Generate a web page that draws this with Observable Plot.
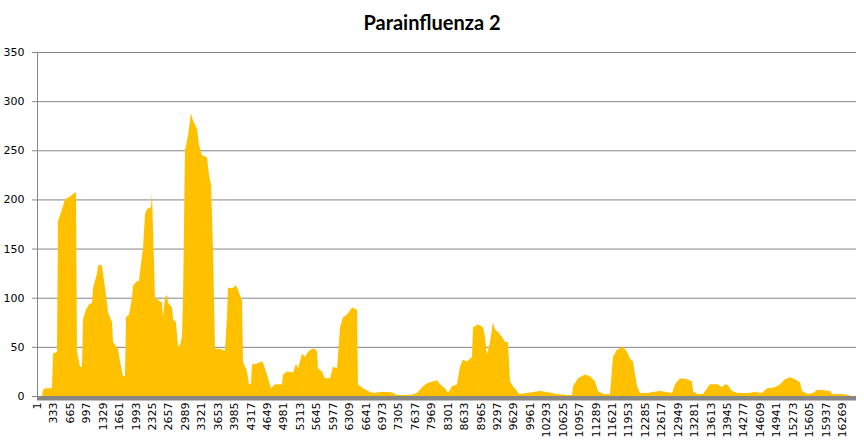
<!DOCTYPE html>
<html><head><meta charset="utf-8">
<script src="https://cdn.jsdelivr.net/npm/d3@7"></script>
<script src="https://cdn.jsdelivr.net/npm/@observablehq/plot@0.6"></script>
<style>
body{margin:0;background:#fff;}
#title{height:40px;font:bold 20px Lato, "Open Sans", sans-serif;text-align:center;line-height:44px;color:#000;}
#chart svg{display:block;}
</style></head><body>
<div id="title"></div>
<div id="chart"></div>
<script>
const title = "Parainfluenza 2";
const positions = [1,102,122,163,304,324,405,425,506,567,668,769,789,809,870,910,931,991,1052,1113,1133,1214,1234,1315,1335,1416,1436,1517,1537,1638,1678,1739,1779,1800,1860,1921,1941,2022,2062,2103,2143,2184,2224,2285,2305,2325,2345,2386,2446,2527,2547,2588,2628,2649,2729,2750,2810,2851,2891,2931,2952,2992,3053,3113,3154,3235,3275,3336,3437,3477,3518,3558,3598,3699,3800,3841,3861,3962,4023,4063,4144,4164,4245,4286,4326,4346,4447,4548,4568,4649,4690,4730,4811,4952,4973,5054,5175,5235,5276,5357,5417,5478,5559,5619,5660,5680,5761,5821,5923,5983,6064,6125,6185,6266,6367,6468,6488,6589,6691,6792,6933,7135,7196,7277,7539,7681,7802,7883,8004,8085,8146,8247,8307,8388,8489,8550,8610,8691,8792,8813,8914,9015,9055,9096,9156,9217,9257,9318,9399,9459,9520,9560,9621,9702,9742,9904,10025,10167,10308,10510,10712,10813,10834,10935,11076,11177,11278,11339,11440,11581,11642,11723,11844,11925,11986,12046,12127,12188,12329,12450,12592,12733,12834,12895,12996,13138,13239,13259,13340,13461,13542,13602,13764,13845,13905,13966,14047,14168,14370,14512,14653,14754,14916,15017,15118,15219,15320,15421,15462,15583,15684,15765,15866,16028,16068,16270,16391,16472];
const counts = [0,0,6,8,8,43,45,178,190,200,203,207,207,45,30,30,78,88,93,95,110,125,133,133,125,95,85,75,55,48,35,20,20,80,83,100,112,117,117,135,150,185,190,192,192,207,170,100,98,95,80,100,103,95,90,78,75,50,52,60,100,250,265,288,280,272,255,245,243,225,215,150,48,48,46,82,110,110,113,108,97,35,25,12,12,32,33,35,34,22,15,8,12,12,22,25,24,33,28,43,40,45,48,48,45,28,25,18,18,30,28,70,80,83,90,88,12,8,5,3,4,4,3,1,1,3,10,13,15,16,12,8,3,10,12,30,37,35,40,70,73,70,60,42,55,75,68,65,60,55,55,15,10,5,2,3,4,5,4,2,1,1,10,18,22,20,15,5,2,2,40,47,50,45,38,35,10,3,3,4,5,4,3,12,18,17,15,5,2,2,8,12,12,9,12,11,5,3,3,4,3,8,9,12,17,19,17,14,5,2,3,6,6,5,2,2,1,0];
const yTicks = [0,50,100,150,200,250,300,350];
const xTickLabels = [1,333,665,997,1329,1661,1993,2325,2657,2989,3321,3653,3985,4317,4649,4981,5313,5645,5977,6309,6641,6973,7305,7637,7969,8301,8633,8965,9297,9629,9961,10293,10625,10957,11289,11621,11953,12285,12617,12949,13281,13613,13945,14277,14609,14941,15273,15605,15937,16269];

document.getElementById("title").textContent = title;
const data = positions.map((p, i) => ({pos: p, count: counts[i]}));

const chart = Plot.plot({
  width: 864, height: 404,
  marginTop: 12, marginBottom: 48, marginLeft: 37, marginRight: 8,
  style: {fontFamily: "DejaVu Sans, Verdana, sans-serif", fontSize: "11px", color: "#000", background: "#fff"},
  x: {domain: [1, 16553], axis: null, label: null},
  y: {domain: [0, 350], axis: null, label: null},
  marks: [
    Plot.gridY(yTicks, {stroke: "#868686", strokeOpacity: 1}),
    Plot.areaY(data, {x: "pos", y: "count", fill: "#FFC000"}),
    Plot.ruleX([1], {stroke: "#868686"}),
    Plot.axisY(yTicks, {tickSize: 5, tickPadding: 8, stroke: "#868686", fill: "#000", fontSize: 11, label: null, tickFormat: d => String(d)}),
    Plot.axisX(xTickLabels, {tickSize: 0, tickPadding: 6, tickRotate: -90, fill: "#000", fontSize: 11, label: null, tickFormat: d => String(d)}),
    Plot.ruleY([0], {stroke: "#868686", strokeWidth: 4, dy: 2})
  ]
});
document.getElementById("chart").appendChild(chart);
</script>
</body></html>
